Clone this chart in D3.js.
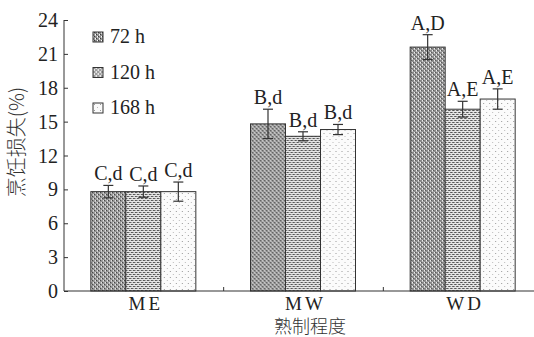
<!doctype html>
<html>
<head>
<meta charset="UTF-8">
<title>烹饪损失</title>
<script src="https://d3js.org/d3.v7.min.js"></script>
<style>
  body { margin: 0; background: #fff; }
  text { font-family: "Liberation Serif", "Times New Roman", serif; fill: #222; }
  .cjk { font-family: "Noto Sans CJK SC", sans-serif; font-weight: 300; fill: #333; }
</style>
</head>
<body>
<svg id="chart" width="534" height="337"></svg>
<script>
// data
var groups = ["ME", "MW", "WD"];
var times = ["72 h", "120 h", "168 h"];
var values = [
    [8.8, 8.8, 8.8],
    [14.8, 13.7, 14.3],
    [21.6, 16.1, 17.0]
];
var errors = [
    [0.55, 0.5, 0.85],
    [1.3, 0.4, 0.45],
    [1.1, 0.7, 0.9]
];
var letters = [
    ["C,d", "C,d", "C,d"],
    ["B,d", "B,d", "B,d"],
    ["A,D", "A,E", "A,E"]
];
var yTicks = [0, 3, 6, 9, 12, 15, 18, 21, 24];

var svg = d3.select("#chart");
var mLeft = 64, mRight = 543, mTop = 20, mBottom = 291;

// fill patterns for the three series
var defs = svg.append("defs");
function pattern(id, size, bg, cells) {
    var p = defs.append("pattern").attr("id", id)
        .attr("patternUnits", "userSpaceOnUse")
        .attr("width", size).attr("height", size);
    p.append("rect").attr("width", size).attr("height", size).attr("fill", bg);
    cells.forEach(function(c) {
        p.append("rect").attr("x", c[0]).attr("y", c[1])
            .attr("width", c[2]).attr("height", c[3]).attr("fill", c[4]);
    });
}
pattern("p0", 4, "#8f8f8f", [[0, 0, 1, 1, "#fff"], [2, 2, 1, 1, "#fff"], [1, 0, 1, 1, "#3a3a3a"], [3, 2, 1, 1, "#3a3a3a"], [0, 1, 1, 1, "#d8d8d8"], [2, 3, 1, 1, "#d8d8d8"]]);
pattern("p1", 4, "#e6e6e6", [[0, 0, 2, 1, "#555"], [2, 2, 2, 1, "#555"], [2, 0, 1, 1, "#999"], [0, 2, 1, 1, "#999"]]);
pattern("p2", 6, "#fbfbfb", [[1, 1, 1, 1, "#999"], [4, 4, 1, 1, "#bbb"]]);

var x0 = d3.scaleBand().domain(groups).range([mLeft, mRight]);
var x1 = d3.scaleBand().domain(times).range([0, 105]);
var y = d3.scaleLinear().domain([0, 24]).range([mBottom, mTop]);

// bars
var g = svg.selectAll("g.grp").data(groups).enter().append("g")
    .attr("class", "grp")
    .attr("transform", function(d) { return "translate(" + (x0(d) + x0.bandwidth() / 2 - 53) + ",0)"; });

g.each(function(gname, gi) {
    var sel = d3.select(this);
    times.forEach(function(t, ti) {
        var v = values[gi][ti], e = errors[gi][ti];
        var bx = x1(t), bw = x1.bandwidth(), cx = bx + bw / 2;
        sel.append("rect")
            .attr("x", bx).attr("y", y(v))
            .attr("width", bw).attr("height", y(0) - y(v))
            .attr("fill", "url(#p" + ti + ")")
            .attr("stroke", "#333").attr("stroke-width", 1);
        sel.append("line").attr("x1", cx).attr("x2", cx)
            .attr("y1", y(v + e)).attr("y2", y(v - e))
            .attr("stroke", "#333").attr("stroke-width", 1.2);
        [v + e, v - e].forEach(function(w) {
            sel.append("line").attr("x1", cx - 5).attr("x2", cx + 5)
                .attr("y1", y(w)).attr("y2", y(w))
                .attr("stroke", "#333").attr("stroke-width", 1.2);
        });
        sel.append("text").attr("x", cx).attr("y", y(v + e) - 5)
            .attr("text-anchor", "middle").attr("font-size", 20)
            .text(letters[gi][ti]);
    });
});

// axes
var yAxis = d3.axisRight(y).tickValues(yTicks).tickSize(4).tickFormat("");
svg.append("g").attr("transform", "translate(" + mLeft + ",0)").call(yAxis)
    .call(function(a) {
        a.select(".domain").attr("stroke", "#333").attr("d", "M0," + mTop + "V" + mBottom);
        a.selectAll("line").attr("stroke", "#333");
    });
svg.selectAll("text.ytl").data(yTicks).enter().append("text")
    .attr("class", "ytl")
    .attr("x", mLeft - 6).attr("y", function(d) { return y(d) + 7; })
    .attr("text-anchor", "end").attr("font-size", 20)
    .text(function(d) { return d; });

svg.append("line").attr("x1", mLeft).attr("x2", 534)
    .attr("y1", mBottom).attr("y2", mBottom).attr("stroke", "#333").attr("stroke-width", 1.2);
svg.selectAll("line.xt").data(groups.slice(1)).enter().append("line")
    .attr("x1", function(d) { return x0(d); }).attr("x2", function(d) { return x0(d); })
    .attr("y1", mBottom).attr("y2", mBottom - 4).attr("stroke", "#333");

svg.selectAll("text.xl").data(groups).enter().append("text")
    .attr("x", function(d) { return x0(d) + x0.bandwidth() / 2 + 2; })
    .attr("y", 310).attr("text-anchor", "middle").attr("font-size", 19)
    .attr("letter-spacing", 3)
    .text(function(d) { return d; });

svg.append("text").attr("class", "cjk").attr("x", 310).attr("y", 333)
    .attr("text-anchor", "middle").attr("font-size", 18).text("熟制程度");
svg.append("text").attr("class", "cjk")
    .attr("transform", "translate(24,142) rotate(-90)")
    .attr("text-anchor", "middle").attr("font-size", 20).text("烹饪损失(%)");

// legend
var lg = svg.selectAll("g.lg").data(times).enter().append("g")
    .attr("transform", function(d, i) { return "translate(93," + (32 + i * 35.5) + ")"; });
lg.append("rect").attr("width", 10).attr("height", 10)
    .attr("fill", function(d, i) { return "url(#p" + i + ")"; })
    .attr("stroke", "#333");
lg.append("text").attr("x", 17).attr("y", 11).attr("font-size", 20)
    .text(function(d) { return d; });
</script>
</body>
</html>
